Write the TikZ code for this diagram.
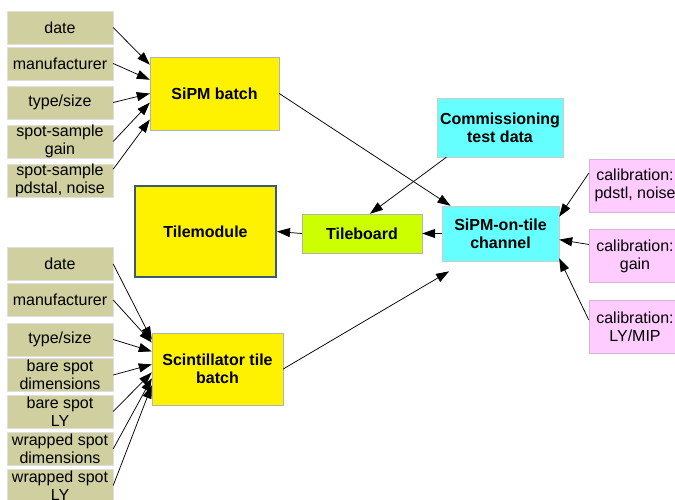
\documentclass[tikz,border=0pt]{standalone}
\usepackage{fontspec}
\setmainfont{Liberation Sans}
\usepackage{tikz}
\usetikzlibrary{arrows.meta}

\definecolor{khaki}{RGB}{207,207,160}
\definecolor{pinkish}{RGB}{255,204,255}
\definecolor{lime}{RGB}{204,255,0}
\definecolor{aqua}{RGB}{102,255,255}
\definecolor{slate}{RGB}{60,90,115}

\begin{document}
\begin{tikzpicture}[x=1pt,y=-1pt,
    >={Triangle[length=13pt,width=9pt]},
    every node/.style={font=\fontsize{16}{18}\selectfont,align=center,inner sep=0pt},
    param/.style={rectangle,fill=khaki,draw=gray!25,minimum width=106pt,minimum height=33pt},
    batch/.style={rectangle,fill=yellow,draw=gray!60,font=\fontsize{16}{18}\selectfont\bfseries},
    calib/.style={rectangle,fill=pinkish,draw=violet!30,minimum width=92pt,minimum height=53pt},
    chan/.style={rectangle,fill=aqua,draw=gray!40,font=\fontsize{16}{18}\selectfont\bfseries},
    link/.style={->,line width=0.75pt}]
    \clip (0,0) rectangle (675,500);
    \fill[white] (0,0) rectangle (675,500);

    \node[param] (d1) at (60,27.5) {date};
    \node[param] (m1) at (60,63.5) {manufacturer};
    \node[param] (t1) at (60,102.5) {type/size};
    \node[param] (g1) at (60,141.5) {spot-sample\\gain};
    \node[param] (n1) at (60,180.5) {spot-sample\\pdstal, noise};

    \node[param] (d2) at (60,264) {date};
    \node[param] (m2) at (60,300) {manufacturer};
    \node[param] (t2) at (60,339.5) {type/size};
    \node[param] (bd) at (60,375) {bare spot\\dimensions};
    \node[param] (bl) at (60,411.5) {bare spot\\LY};
    \node[param] (wd) at (60,449) {wrapped spot\\dimensions};
    \node[param] (wl) at (60,485.5) {wrapped spot\\LY};

    \node[batch,minimum width=129pt,minimum height=73pt] (sb) at (214.5,93.5) {SiPM batch};
    \node[batch,minimum width=131pt,minimum height=72pt] (scb) at (217.5,369) {Scintillator tile\\batch};
    \node[batch,draw=slate,line width=2pt,minimum width=141pt,minimum height=91pt] (tm) at (205.5,231.5) {Tilemodule};
    \node[batch,fill=lime,draw=gray!60,minimum width=120pt,minimum height=39pt] (tb) at (362,233.5) {Tileboard};
    \node[chan,minimum width=117pt,minimum height=55pt] (sot) at (500.5,233.5) {SiPM-on-tile\\channel};
    \node[chan,minimum width=126pt,minimum height=59pt] (ctd) at (500,127.5) {Commissioning\\test data};

    \node[calib] (c1) at (635,185.5) {calibration:\\pdstl, noise};
    \node[calib] (c2) at (635,256) {calibration:\\gain};
    \node[calib] (c3) at (635,326.5) {calibration:\\LY/MIP};

    \draw[link] (d1.east) -- (sb.156);
    \draw[link] (m1.east) -- (sb.168);
    \draw[link] (t1.east) -- (sb.180);
    \draw[link] (g1.east) -- (sb.188);
    \draw[link] (n1.12) -- (sb.202);

    \draw[link] (d2.east) -- (scb.156);
    \draw[link] (m2.east) -- (scb.158);
    \draw[link] (t2.east) -- (scb.165);
    \draw[link] (bd.east) -- (scb.176);
    \draw[link] (bl.east) -- (scb.183);
    \draw[link] (wd.east) -- (scb.188);
    \draw[link] (wl.east) -- (scb.194);

    \draw[link] (sb.east) -- (sot.151);
    \draw[link] (ctd.209) -- (tb.68);
    \draw[link] (sot.west) -- (tb.east);
    \draw[link] (tb.west) -- (tm.east);
    \draw[link,shorten >=20pt] (scb.east) -- (sot.219);

    \draw[link] (c1.165) -- (sot.16);
    \draw[link] (c2.166) -- (sot.354);
    \draw[link] (c3.172) -- (sot.337);
\end{tikzpicture}
\end{document}
